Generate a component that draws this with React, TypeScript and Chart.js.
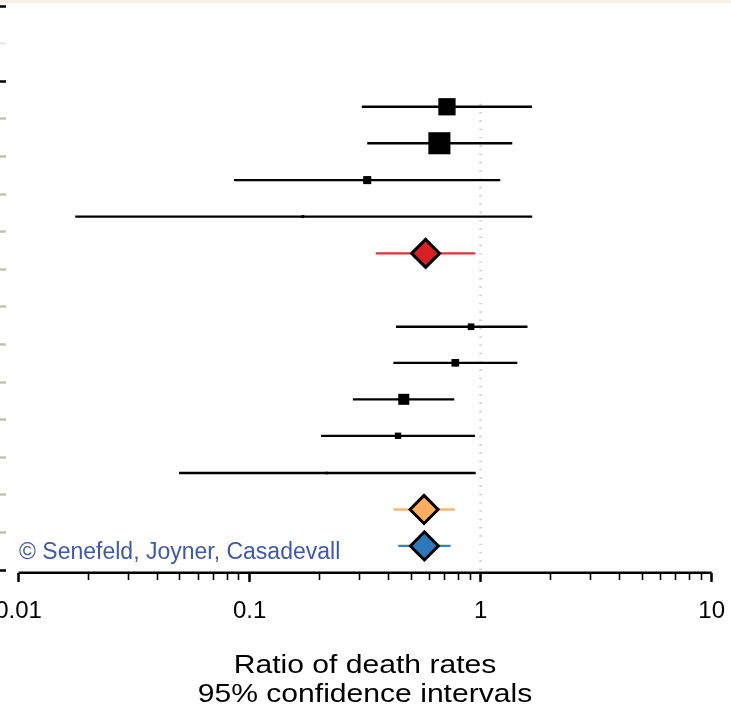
import React, { useEffect, useRef } from 'react';
import { Chart, registerables } from 'chart.js';

Chart.register(...registerables);

// ---- data -------------------------------------------------------------
// vertical slot of each row (y-axis units, one unit = one axis tick band)
const rowPos = [2.68, 3.65, 4.63, 5.6, 6.58, 8.53, 9.49, 10.46, 11.43, 12.42, 13.39, 14.36];
// point estimate (ratio of death rates) and 95% CI per row
const estimate = [0.715, 0.663, 0.323, 0.17, 0.578, 0.909, 0.777, 0.465, 0.439, 0.216, 0.569, 0.571];
const ciLow = [0.306, 0.323, 0.0856, 0.0176, 0.352, 0.43, 0.419, 0.28, 0.204, 0.0495, 0.419, 0.44];
const ciHigh = [1.668, 1.371, 1.216, 1.672, 0.948, 1.595, 1.441, 0.769, 0.945, 0.952, 0.775, 0.742];
// row kind: individual study or a pooled estimate
const rowKind = [
  'study', 'study', 'study', 'study', 'pooledRed',
  'study', 'study', 'study', 'study', 'study', 'pooledOrange', 'pooledBlue',
];
// marker size (study weight)
const markerSize = [12.2, 15.6, 5.7, 2.1, 14, 4.7, 5.4, 7.8, 4.5, 1.8, 14, 14];

const majorTicks = [0.01, 0.1, 1, 10];
const majorTickLabels = ['0.01', '0.1', '1', '10'];
const minorMultipliers = [2, 3, 4, 5, 6, 7, 8, 9];
const yTicks = [0, 1, 2, 3, 4, 5, 6, 7, 8, 9, 10, 11, 12, 13, 14, 15];
const yTickColors = [
  '#000000', '#ececec', '#000000',
  '#c4c2b5', '#c4c2b5', '#c4c2b5', '#c4c2b5', '#c4c2b5', '#c4c2b5',
  '#c4c2b5', '#c4c2b5', '#c4c2b5', '#c4c2b5', '#c4c2b5', '#c4c2b5',
  '#000000',
];
const nullLineValue = 1;
const xAxisTitle = ['Ratio of death rates', '95% confidence intervals'];
const credit = '\u00A9 Senefeld, Joyner, Casadevall';

// ---- styling ------------------------------------------------------------
const FONT = '"Liberation Sans", Arial, Helvetica, sans-serif';
const X_MIN = 0.00883;
const X_MAX = 10;
const Y_MAX = 15.074;
const REF_LINE_TOP = 2.6;
const CANVAS_LEFT = -40;
const PAD_RIGHT = 30.3;
const CANVAS_W = 782;
const CANVAS_H = 714;
const CHART_BOTTOM = 572.8;

const kindStyle: Record<string, { line: string; fill: string; shape: string; border: number }> = {
  study: { line: '#000000', fill: '#000000', shape: 'rect', border: 0 },
  pooledRed: { line: '#de3338', fill: '#d71f26', shape: 'rectRot', border: 3 },
  pooledOrange: { line: '#f8b67a', fill: '#fdae61', shape: 'rectRot', border: 3 },
  pooledBlue: { line: '#3a82c3', fill: '#2d78ba', shape: 'rectRot', border: 3 },
};

export default function App() {
  const canvasRef = useRef<HTMLCanvasElement | null>(null);

  useEffect(() => {
    if (!canvasRef.current) return;

    const allXTicks: number[] = [];
    majorTicks.forEach((d, i) => {
      allXTicks.push(d);
      if (i < majorTicks.length - 1) minorMultipliers.forEach((m) => allXTicks.push(d * m));
    });

    const ciDatasets = rowPos.map((y, i) => ({
      type: 'line' as const,
      data: [
        { x: ciLow[i], y },
        { x: ciHigh[i], y },
      ],
      borderColor: kindStyle[rowKind[i]].line,
      borderWidth: 2.3,
      borderCapStyle: 'butt' as const,
      pointRadius: 0,
      clip: false as const,
      order: 1,
    }));

    const chart = new Chart(canvasRef.current, {
      type: 'line',
      data: {
        datasets: [
          {
            type: 'line',
            data: rowPos.map((y, i) => ({ x: estimate[i], y })),
            showLine: false,
            pointStyle: rowKind.map((k) => kindStyle[k].shape) as any,
            pointRadius: markerSize,
            pointBackgroundColor: rowKind.map((k) => kindStyle[k].fill),
            pointBorderColor: '#000000',
            pointBorderWidth: rowKind.map((k) => kindStyle[k].border),
            clip: false,
            order: 0,
          } as any,
          ...ciDatasets,
          {
            type: 'line',
            data: [
              { x: nullLineValue, y: REF_LINE_TOP },
              { x: nullLineValue, y: Y_MAX },
            ],
            borderColor: '#cfcfcf',
            borderWidth: 3,
            borderDash: [1.4, 6.9],
            pointRadius: 0,
            clip: false,
            order: 3,
          } as any,
          {
            type: 'line',
            data: [
              { x: majorTicks[0], y: Y_MAX },
              { x: majorTicks[majorTicks.length - 1], y: Y_MAX },
            ],
            borderColor: '#000000',
            borderWidth: 2.4,
            borderCapStyle: 'butt',
            pointRadius: 0,
            clip: false,
            order: 2,
          } as any,
        ],
      },
      options: {
        animation: false,
        responsive: false,
        devicePixelRatio: 1,
        events: [],
        layout: { autoPadding: false, padding: { left: -CANVAS_LEFT, right: PAD_RIGHT, top: 6, bottom: 0 } },
        plugins: {
          legend: { display: false },
          tooltip: { enabled: false },
          title: { display: false },
        },
        scales: {
          x2: {
            type: 'logarithmic',
            axis: 'x',
            position: 'bottom',
            weight: 0,
            min: X_MIN,
            max: X_MAX,
            border: { display: false },
            grid: {
              display: true,
              drawOnChartArea: false,
              drawTicks: true,
              tickLength: 9.2,
              tickWidth: 2.4,
              tickColor: '#000000',
            },
            ticks: { display: false },
            afterBuildTicks: (s: any) => {
              s.ticks = majorTicks.map((v) => ({ value: v }));
            },
            afterFit: (s: any) => {
              s.height = 0;
            },
          } as any,
          x: {
            type: 'logarithmic',
            position: 'bottom',
            weight: 1,
            min: X_MIN,
            max: X_MAX,
            border: { display: false },
            grid: {
              display: true,
              drawOnChartArea: false,
              drawTicks: true,
              tickLength: 7.2,
              tickWidth: 1.6,
              tickColor: '#000000',
            },
            ticks: {
              autoSkip: false,
              maxRotation: 0,
              minRotation: 0,
              padding: 16.6,
              color: '#000000',
              font: { family: FONT, size: 24 },
              callback: (v: any) => {
                const i = majorTicks.indexOf(Number(v));
                return i >= 0 ? majorTickLabels[i] : '';
              },
            },
            afterBuildTicks: (s: any) => {
              s.ticks = allXTicks.map((v) => ({ value: v }));
            },
            afterFit: (s: any) => {
              s.height = CANVAS_H - CHART_BOTTOM;
            },
          } as any,
          y: {
            type: 'linear',
            reverse: true,
            min: 0,
            max: Y_MAX,
            border: { display: false },
            grid: {
              display: true,
              drawOnChartArea: false,
              drawTicks: true,
              tickLength: 6,
              tickWidth: 2.5,
              tickColor: (c: any) => yTickColors[c.index] ?? '#c4c2b5',
            },
            ticks: { display: false },
            afterBuildTicks: (s: any) => {
              s.ticks = yTicks.map((v) => ({ value: v }));
            },
          } as any,
        },
      },
    });

    return () => chart.destroy();
  }, []);

  return (
    <div>
      <div
        style={{
          position: 'fixed',
          left: 0,
          top: 0,
          width: '100%',
          height: 3,
          background: '#f3f1e6',
        }}
      />
      <canvas
        ref={canvasRef}
        width={CANVAS_W}
        height={CANVAS_H}
        style={{ position: 'fixed', left: CANVAS_LEFT, top: 0, width: CANVAS_W, height: CANVAS_H }}
      />
      <div
        style={{
          position: 'fixed',
          left: 19,
          top: 538,
          fontFamily: FONT,
          fontSize: 23,
          lineHeight: '26px',
          color: '#3f58a8',
          whiteSpace: 'nowrap',
        }}
      >
        {credit}
      </div>
      <div
        style={{
          position: 'fixed',
          left: 0,
          top: 650,
          width: 730,
          textAlign: 'center',
          fontFamily: FONT,
          fontSize: 25.5,
          lineHeight: '29px',
          color: '#000000',
          transform: 'scaleX(1.18)',
          transformOrigin: '365px 0',
          whiteSpace: 'nowrap',
        }}
      >
        {xAxisTitle.map((t) => (
          <div key={t}>{t}</div>
        ))}
      </div>
    </div>
  );
}
